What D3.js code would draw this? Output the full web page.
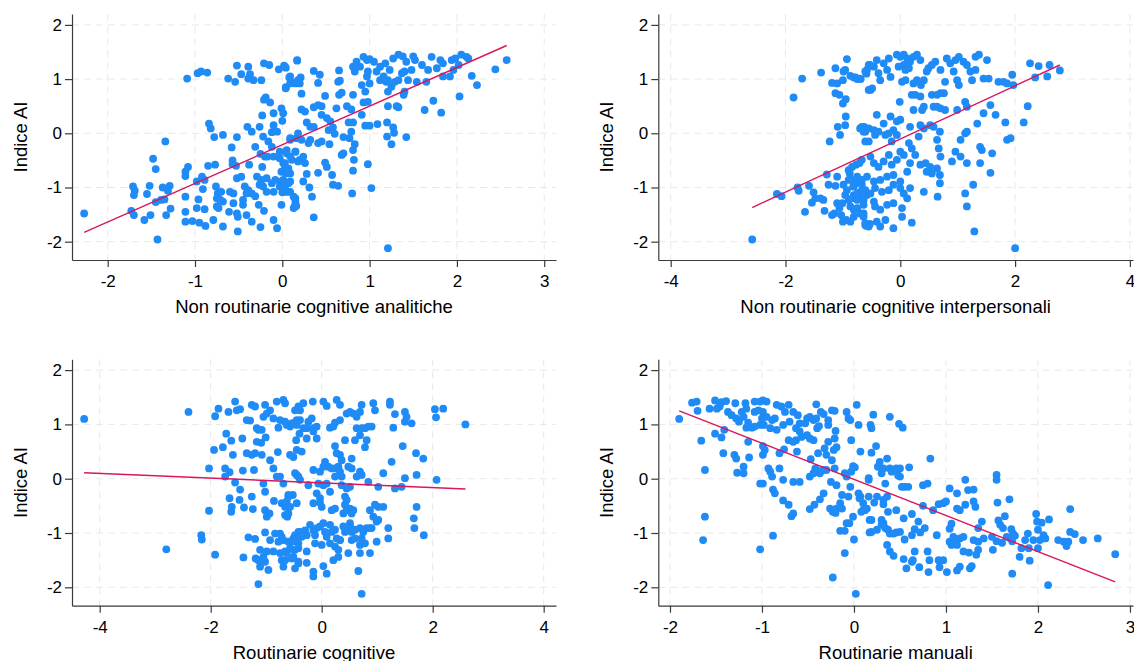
<!DOCTYPE html>
<html>
<head>
<meta charset="utf-8">
<script src="https://cdn.jsdelivr.net/npm/d3@7/dist/d3.min.js"></script>
<style>
  html, body { margin: 0; padding: 0; background: #fff; }
  svg { display: block; font-family: "Liberation Sans", Arial, Helvetica, sans-serif; }
</style>
</head>
<body>
<svg id="chart" width="1134" height="661"></svg>
<script>
// ---------------- DATA ----------------
const yTitle = "Indice AI";
const xTitles = [
  "Non routinarie cognitive analitiche",
  "Non routinarie cognitive interpersonali",
  "Routinarie cognitive",
  "Routinarie manuali"
];
const yTicks = [-2, -1, 0, 1, 2];
const xTicksAnalitiche = [-2, -1, 0, 1, 2, 3];
const xTicksInterpersonali = [-4, -2, 0, 2, 4];
const xTicksCognitive = [-4, -2, 0, 2, 4];
const xTicksManuali = [-2, -1, 0, 1, 2, 3];

// fitted line end points [x, y]
const fitAnalitiche = [[-2.27, -1.83], [2.57, 1.62]];
const fitInterpersonali = [[-2.58, -1.37], [2.78, 1.26]];
const fitCognitive = [[-4.28, 0.11], [2.59, -0.19]];
const fitManuali = [[-1.90, 1.25], [2.84, -1.90]];

const pointsAnalitiche = [
[-2.27,-1.48],
[-1.09,1.01],[-0.97,1.11],[-0.93,1.14],[-0.86,1.12],[-0.62,1.01],[-0.54,0.95],[-0.52,1.25],[-0.47,1.09],[-0.39,1.23],[-0.39,1.01],[-0.33,0.98],[-0.24,0.98],[-0.37,1.09],[-0.21,1.29],[-0.15,1.26],[-0.04,1.18],[0.02,1.25],[0.04,1.21],[0.17,1.34],[0.08,1.03],[0.13,0.93],[0.04,0.85],[0.09,0.92],[0.18,0.98],
[-0.19,0.66],[-0.21,0.62],[-0.14,0.57],[-0.01,0.46],[0.01,0.37],[-0.10,0.37],[-0.23,0.33],[0.00,0.23],[-0.84,0.18],[-0.82,0.09],[-0.40,0.12],[-0.35,0.03],[-0.26,0.12],[-0.10,0.15],[-0.12,0.02],[-0.06,0.03],[-0.78,-0.07],[-0.68,-0.03],[-0.52,-0.07],[-0.22,-0.06],[-0.16,-0.15],[0.09,-0.09],[0.16,-0.09],[-1.34,-0.15],[-0.31,-0.25],[-0.58,-0.26],[-0.25,-0.38],[-0.12,-0.25],[-0.03,-0.34],[0.05,-0.37],[0.15,-0.34],
[-1.48,-0.47],[-1.45,-0.66],[-1.08,-0.62],[-1.11,-0.71],[-1.11,-0.79],[-0.85,-0.60],[-0.77,-0.58],[-0.57,-0.50],[-0.57,-0.57],[-0.53,-0.60],[-0.38,-0.58],[-0.20,-0.43],[-0.17,-0.43],[-0.23,-0.62],[-0.10,-0.43],[-0.03,-0.46],[0.01,-0.55],[0.03,-0.65],[0.06,-0.68],[0.11,-0.49],[0.18,-0.52],[-0.01,-0.71],[0.09,-0.74],
[-1.71,-0.98],[-1.69,-1.06],[-1.70,-1.14],[-1.55,-1.12],[-1.52,-0.97],[-1.37,-1.00],[-1.29,-0.97],[-1.31,-1.06],[-1.73,-1.43],[-1.70,-1.51],[-1.58,-1.60],[-1.51,-1.51],[-1.45,-1.27],[-1.39,-1.23],[-1.35,-1.22],[-1.33,-1.51],[-1.28,-1.39],[-1.43,-1.96],[-1.11,-1.17],[-1.11,-1.45],[-1.11,-1.63],[-1.03,-1.62],[-0.95,-1.65],[-0.88,-1.71],[-0.98,-0.89],[-0.92,-0.80],[-0.89,-0.86],[-0.96,-1.22],[-0.91,-1.03],[-0.89,-1.40],[-0.98,-1.38],[-0.79,-1.60],[-0.76,-0.98],[-0.74,-1.11],[-0.70,-1.08],[-0.75,-1.20],[-0.71,-1.23],[-0.75,-1.35],[-0.68,-1.26],[-0.73,-1.38],[-0.68,-1.72],[-0.60,-1.08],[-0.56,-1.11],[-0.56,-1.29],[-0.61,-1.45],[-0.52,-1.48],[-0.51,-1.54],[-0.51,-1.81],[-0.52,-0.83],[-0.47,-0.80],[-0.45,-1.23],[-0.45,-1.32],[-0.41,-1.51],[-0.43,-0.98],[-0.39,-1.05],[-0.35,-1.11],[-0.41,-1.11],[-0.35,-1.63],[-0.31,-1.16],[-0.27,-1.32],[-0.25,-1.73],[-0.29,-0.80],[-0.24,-0.86],[-0.18,-0.83],[-0.26,-0.95],[-0.22,-0.98],[-0.21,-1.43],[-0.18,-1.08],[-0.12,-0.92],[-0.08,-0.86],[-0.10,-1.08],[-0.10,-1.60],[-0.06,-1.75],[-0.01,-0.89],[0.03,-0.98],[-0.03,-0.98],[0.00,-1.09],[0.06,-1.08],[-0.01,-1.32],[0.13,-1.17],[0.15,-1.26],[0.14,-1.35],[0.09,-0.89],
[0.03,1.23],[0.17,1.35],[0.04,0.83],[0.09,1.05],[0.15,0.92],[0.21,1.03],[0.20,0.92],[0.22,0.73],[0.36,1.15],[0.43,1.08],[0.41,0.93],[0.22,0.44],[0.26,0.40],[0.36,0.48],[0.41,0.52],[0.45,0.50],[0.49,0.69],[0.28,0.20],[0.32,0.12],[0.36,0.12],[0.45,0.34],[0.51,0.28],[0.55,0.22],[0.53,0.06],[0.60,-0.01],[0.58,0.11],[0.64,0.95],[0.66,0.97],[0.68,0.75],[0.65,0.71],[0.65,1.16],[0.62,0.46],[0.74,0.50],[0.79,0.44],[0.76,0.20],[0.81,0.20],[0.79,0.03],[0.77,-0.09],[0.70,-0.07],[0.81,0.71],[0.09,-0.12],[0.18,0.00],[0.22,-0.12],[0.32,-0.12],[0.30,-0.18],[0.41,-0.18],[0.45,-0.15],[0.54,-0.20],[0.05,-0.31],[0.09,-0.43],[0.15,-0.34],[0.20,-0.49],[0.26,-0.55],[0.24,-0.43],[0.03,-0.55],[0.07,-0.65],[0.04,-0.74],[0.01,-0.86],[0.07,-0.92],[0.03,-1.08],[0.09,-1.08],[0.15,-1.20],[0.13,-1.38],[0.16,-1.34],[0.24,-0.89],[0.31,-1.00],[0.34,-1.17],[0.36,-1.55],[0.28,-0.75],[0.41,-0.73],[0.49,-0.54],[0.51,-0.62],[0.57,-0.77],[0.58,-0.95],[0.64,-0.97],[0.68,-0.40],[0.70,-0.37],[0.81,-0.31],[0.82,-0.49],[0.81,-0.69],[0.80,-1.11],[0.83,-0.20],[0.98,-0.57],[1.02,-1.01],
[0.81,1.23],[0.85,1.32],[0.89,1.23],[0.93,1.41],[0.97,1.35],[1.00,1.37],[1.05,1.32],[0.83,1.14],[0.91,0.89],[0.97,1.05],[0.98,1.14],[0.95,0.77],[1.00,0.92],[0.93,0.57],[0.98,0.58],[0.91,0.34],[0.95,0.14],[1.00,0.14],[1.09,0.17],[1.20,0.20],[1.27,0.11],[1.28,0.01],[1.20,-0.06],[1.25,-0.20],[1.42,-0.07],[1.12,1.23],[1.18,1.29],[1.23,1.17],[1.27,1.38],[1.33,1.45],[1.38,1.42],[1.42,1.32],[1.50,1.42],[1.52,1.35],[1.60,1.26],[1.08,1.14],[1.12,0.98],[1.16,1.05],[1.19,0.95],[1.21,0.98],[1.29,0.95],[1.33,0.98],[1.37,1.11],[1.40,1.14],[1.44,0.98],[1.48,1.17],[1.54,0.95],[1.21,0.77],[1.25,0.86],[1.39,0.71],[1.40,0.77],[1.21,0.50],[1.31,0.50],[1.33,0.48],[1.65,0.95],[1.67,1.17],[1.71,1.41],[1.77,1.20],[1.81,1.35],[1.84,1.29],[1.84,1.05],[1.92,1.05],[1.94,1.35],[1.98,1.38],[2.05,1.45],[2.11,1.41],[2.13,1.38],[1.96,1.17],[2.02,1.26],[2.17,1.06],[2.23,0.89],[2.03,0.68],[1.63,0.43],[1.73,0.60],[1.82,0.38],[2.44,1.18],[2.57,1.35],[1.21,-2.12]
];

const pointsInterpersonali = [
[-2.58,-1.96],[-2.15,-1.12],[-2.07,-1.16],[-1.86,0.66],[-1.71,1.01],[-1.79,-1.00],[-1.77,-1.06],[-1.66,-1.45],[-1.59,-0.97],[-1.54,-1.28],[-1.51,-1.09],[-1.48,-1.20],[-1.39,-1.20],[-1.32,-1.43],[-1.34,-1.23],[-1.38,1.12],[-1.28,-0.76],[-1.25,-0.95],[-1.19,-1.51],[-1.15,-1.48],[-1.13,-0.97],[-1.10,-0.80],[-1.13,1.20],[-1.19,0.93],[-1.10,0.92],[-1.13,0.74],[-1.23,-0.15],[-1.09,0.12],[-1.05,-0.03],[-1.06,0.71],[-1.10,-1.29],[-1.01,-1.29],[-1.06,-1.38],[-1.03,-1.51],[-1.00,-1.63],[-0.94,-1.60],[-0.87,-1.63],[-0.99,1.14],[-0.96,1.17],[-0.93,1.37],[-0.87,1.06],[-0.81,1.03],[-0.75,1.00],[-0.69,1.00],[-1.00,0.55],[-0.95,0.63],[-1.00,0.98],[-0.95,0.31],[-0.96,0.15],[-0.99,-0.95],[-0.93,-1.05],[-0.84,-0.86],[-0.82,-0.98],[-0.78,-0.92],[-0.73,-0.89],[-0.67,-0.95],[-0.96,-1.14],[-0.90,-1.23],[-0.84,-1.20],[-0.81,-1.14],[-0.75,-1.11],[-0.70,-1.17],[-0.64,-1.23],[-0.90,-0.68],[-0.84,-0.62],[-0.77,-0.58],[-0.71,-0.55],[-0.67,-0.49],[-0.90,-0.86],[-0.88,-0.74],[-0.87,-1.35],[-0.81,-1.41],[-0.75,-1.38],[-0.70,-1.48],[-0.64,-1.54],[-0.61,-1.66],[-0.59,-1.71],[-0.53,-1.67],[-0.70,0.09],[-0.63,0.12],[-0.61,0.03],[-0.59,1.10],[-0.58,1.17],[-0.55,0.80],[-0.53,1.26],[-0.61,-0.15],[-0.55,-0.15],[-0.58,-1.14],
[-0.70,1.01],[-0.61,1.14],[-0.55,1.26],[-0.46,1.23],[-0.41,1.35],[-0.38,1.11],[-0.29,1.29],[-0.23,1.17],[-0.20,1.38],[-0.17,1.04],[-0.35,0.98],[-0.52,0.80],[-0.49,0.83],[-0.78,1.03],
[-0.06,1.45],[0.00,1.41],[0.06,1.45],[0.12,1.38],[0.17,1.32],[0.23,1.41],[0.29,1.45],[0.35,1.35],[-0.03,1.23],[0.06,1.26],[0.09,1.17],[0.15,1.20],[0.03,0.95],[0.09,0.98],[0.23,0.92],[0.29,0.98],[0.36,0.89],[0.41,0.98],[0.46,1.14],[0.49,1.20],[0.55,1.26],[0.61,1.32],[0.20,0.71],[0.26,0.71],[0.35,0.68],[0.55,0.71],[0.64,0.71],[0.70,0.74],[0.76,0.74],[0.70,1.17],[0.78,0.95],[0.81,1.38],[0.87,1.29],[0.93,1.14],[0.96,1.35],[1.02,1.41],[0.99,0.98],[1.02,0.89],[1.10,1.32],[1.16,1.26],[1.22,1.14],[1.25,0.98],[1.31,1.41],[1.37,1.45],[1.31,1.17],[1.45,1.01],[1.51,1.35],[1.54,1.01],[1.71,0.95],[1.80,0.95],[1.86,0.92],[1.95,1.08],[1.97,0.89],[2.26,1.29],[2.41,1.24],[2.60,1.26],[2.78,1.16],[2.56,1.05],[2.35,1.03],
[-0.01,0.58],[0.23,0.43],[0.38,0.43],[0.41,0.49],[0.58,0.49],[0.64,0.49],[0.70,0.46],[0.78,0.43],[-0.41,0.34],[-0.29,0.18],[-0.17,0.31],[-0.06,0.22],[0.00,0.25],[-0.67,0.12],[-0.64,0.03],[-0.55,0.09],[-0.46,0.06],[-0.44,-0.03],[-0.38,0.03],[-0.26,-0.03],[-0.20,0.00],[0.17,0.12],[0.35,0.15],[0.41,0.09],[0.52,0.15],[0.58,0.12],[0.69,0.03],[-0.12,0.06],[-0.06,-0.03],[-0.15,-0.15],[0.00,-0.34],[0.15,-0.18],[0.20,-0.28],[0.32,-0.06],[0.99,0.43],[1.13,0.58],[1.16,0.49],[1.34,0.18],[1.45,0.37],[1.57,0.52],[1.66,0.34],[1.83,0.20],[2.15,0.20],[2.22,0.50],[1.05,-0.12],[1.13,0.00],[1.16,0.03],[1.86,-0.12],[1.92,-0.09],[0.64,-0.12],[0.67,-0.28],[0.70,-0.43],[0.96,-0.34],[1.05,-0.43],[1.16,-0.55],[0.90,-0.52],[1.39,-0.25],[1.42,-0.31],[1.39,-0.55],[1.60,-0.37],[1.57,-0.73],
[-0.52,-0.43],[-0.46,-0.55],[-0.38,-0.62],[-0.29,-0.52],[-0.20,-0.40],[-0.15,-0.58],[-0.06,-0.49],[0.06,-0.40],[0.17,-0.55],[0.26,-0.40],[0.35,-0.58],[0.44,-0.55],[0.52,-0.62],[0.64,-0.65],[0.12,-0.71],[0.46,-0.71],[0.55,-0.74],[0.69,-0.77],[0.69,-0.92],[-0.75,-0.80],[-0.67,-0.86],[-0.58,-0.80],[-0.46,-0.89],[-0.35,-0.86],[-0.23,-0.80],[-0.12,-0.77],[0.00,-0.89],
[-0.81,-0.98],[-0.70,-1.08],[-0.61,-1.05],[-0.52,-1.11],[-0.44,-1.01],[-0.32,-1.08],[-0.20,-1.05],[-0.12,-0.95],[0.00,-1.01],[0.06,-1.11],[0.17,-1.01],[0.41,-1.08],[0.65,-1.17],[1.13,-1.11],[1.27,-0.95],[1.16,-1.35],[1.29,-1.81],[-0.75,-1.23],[-0.64,-1.32],[-0.46,-1.26],[-0.44,-1.35],[-0.35,-1.41],[-0.23,-1.32],[-0.12,-1.29],[0.03,-1.38],[0.12,-1.20],[-0.81,-1.54],[-0.64,-1.48],[-0.61,-1.69],[-0.55,-1.72],[-0.41,-1.63],[-0.35,-1.72],[-0.26,-1.60],[-0.12,-1.75],[0.03,-1.54],[0.20,-1.65],[2.00,-2.12]
];

const pointsCognitive = [
[-4.28,1.10],[-2.40,1.23],[-2.80,-1.30],[-2.17,-1.04],[-2.16,-1.12],[-2.03,0.19],[-2.03,-0.59],[-1.92,-1.40],[-1.94,0.53],[-1.78,0.58],[-1.92,1.15],[-1.86,1.29],[-1.72,0.83],[-1.63,0.70],[-1.60,0.44],[-1.74,0.19],[-1.66,0.12],[-1.74,0.04],[-1.56,-0.07],[-1.68,1.23],[-1.56,1.42],[-1.53,1.26],[-1.47,1.28],[-1.66,-0.36],[-1.62,-0.52],[-1.63,-0.61],[-1.47,-0.20],[-1.48,-0.39],[-1.40,-0.53],[-1.43,0.74],[-1.35,0.47],[-1.42,0.15],[-1.32,-1.08],[-1.41,-1.45],[-1.35,1.08],[-1.29,1.07],[-1.26,1.36],[-1.20,1.33],[-1.17,0.93],[-1.14,0.90],[-1.08,0.90],[-1.05,1.14],[-1.02,1.36],[-0.99,1.20],[-1.20,0.47],[-1.08,0.44],[-1.26,0.44],[-1.22,0.16],[-1.26,-0.33],[-1.24,-0.56],[-1.17,0.68],[-1.09,0.66],[-1.01,0.76],[-1.05,-0.09],[-1.02,-0.24],[-1.20,-1.11],[-1.19,-1.47],[-1.14,-1.50],[-1.11,-1.31],[-1.05,-1.44],[-1.02,-1.53],[-0.96,-1.68],[-1.11,-1.62],[-1.14,-1.94],[-1.02,-0.58],[-0.99,-0.70],[-0.94,-0.64],[-1.02,-0.99],[-0.99,-1.34],[-0.87,-1.34],[-0.93,-1.13],[-0.84,-1.01],[-0.78,-1.16],[-0.72,-1.07],[-0.93,1.26],[-0.87,1.11],[-0.81,1.42],[-0.75,1.08],[-0.69,1.45],[-0.66,1.39],[-0.78,0.94],[-0.63,0.99],[-0.93,0.34],[-0.87,0.19],[-0.79,0.49],[-0.86,-0.41],[-0.81,0.04],[-0.75,0.04],[-0.69,-0.09],[-0.72,-0.45],[-0.66,-0.52],[-0.60,-0.33],[-0.66,-0.67],[-0.62,-0.70],[-0.75,-1.37],[-0.66,-1.50],[-0.69,-1.62],[-0.63,-1.37],[-0.57,-1.28],[-0.51,-1.44],[-0.48,-1.31],[-0.54,-1.16],[-0.57,0.96],[-0.52,1.02],[-0.48,1.26],[-0.45,1.08],[-0.46,0.71],[-0.40,0.83],[-0.57,0.44],[-0.51,0.40],[-0.45,0.53],[-0.48,0.10],[-0.42,0.04],[-0.52,-0.30],[-0.45,-0.45],[-0.42,-0.98],[-0.45,-1.16],[-0.42,-1.19],[-0.42,-1.53],
[-0.66,1.05],[-0.54,1.02],[-0.45,0.99],[-0.39,1.08],[-0.33,0.93],[-0.27,0.93],[-0.39,1.26],[-0.33,1.39],[-0.42,1.33],[-0.24,1.05],[-0.18,1.11],[-0.15,0.93],[-0.09,0.96],[-0.16,1.42],[0.03,1.42],[0.09,1.34],[-0.15,0.87],[-0.09,0.74],[-0.27,0.74],[-0.36,0.50],
[0.15,0.94],[0.24,1.03],[0.21,0.96],[0.33,1.08],[0.45,1.20],[0.51,1.23],[0.57,1.20],[0.63,1.14],[0.69,1.23],[0.72,1.36],[0.27,1.45],[0.33,1.36],[0.63,0.93],[0.72,0.93],[0.78,0.93],[0.84,0.96],[0.90,0.96],[0.69,0.80],[0.60,0.71],[0.81,0.71],[0.93,1.39],[0.96,1.26],[1.23,1.42],[1.23,1.36],[1.32,1.19],[1.29,0.94],[1.50,1.23],[1.53,1.14],[1.50,1.05],[1.62,1.02],[2.04,1.28],[2.19,1.29],[2.06,1.13],[2.59,1.00],[0.42,0.71],[0.78,0.58],[0.24,0.60],[0.27,0.47],[0.33,0.44],[0.36,0.34],[0.54,0.37],[0.48,0.22],[0.54,0.19],[0.69,0.13],[0.72,0.07],[0.63,0.04],[-0.15,0.16],[-0.03,0.13],[0.03,0.22],[0.06,0.31],[0.12,0.22],[0.18,0.19],[0.24,0.19],[0.30,0.22],[0.33,0.13],[0.36,0.04],[0.24,0.04],[-0.45,0.07],[-0.39,-0.02],[-0.24,-0.12],[-0.06,-0.09],[0.03,-0.12],[0.09,-0.09],[0.36,-0.12],[0.45,-0.18],[0.51,-0.15],[0.84,-0.06],[1.02,-0.15],[1.11,0.10],[1.26,0.31],[1.32,-0.18],[1.44,-0.15],[1.50,0.01],[1.71,0.07],[1.70,0.47],[1.83,0.37],[2.07,-0.02],[1.46,0.60],[-0.60,-0.30],[-0.63,-0.42],[-0.57,-0.52],[-0.60,-0.64],[-0.09,-0.27],[-0.03,-0.36],[0.15,-0.24],[-0.15,-0.45],[-0.03,-0.44],[0.00,-0.52],[0.18,-0.58],[0.24,-0.55],[0.42,-0.33],[0.45,-0.39],[0.42,-0.48],[0.45,-0.58],[0.51,-0.55],[0.54,-0.64],[0.57,-0.58],[0.39,-0.64],[0.51,-0.82],[0.87,-0.58],[0.96,-0.48],[1.02,-0.52],[1.11,-0.52],[0.93,-0.70],[1.02,-0.76],[0.99,-0.79],[0.87,-0.91],[1.71,-0.52],[1.66,-0.73],[1.67,-0.91],[1.84,-1.04],[1.20,-0.91],[1.20,-1.10],[0.99,-1.16],
[-0.75,-1.01],[-0.69,-1.13],[-0.60,-1.16],[-0.51,-1.10],[-0.48,-1.04],[-0.39,-0.98],[-0.36,-1.07],[-0.30,-0.95],[-0.27,-1.04],[-0.21,-0.85],[-0.15,-0.95],[-0.12,-1.04],[-0.09,-0.91],[-0.03,-0.88],[0.03,-0.82],[0.06,-0.98],[0.09,-1.07],[0.15,-0.85],[0.18,-0.98],[0.24,-0.94],[0.27,-1.10],[0.33,-1.13],[0.39,-0.88],[0.42,-0.98],[0.51,-0.88],[0.54,-0.98],[0.60,-0.94],[0.69,-0.91],[0.75,-0.98],[0.81,-0.91],[0.90,-0.91],[-0.66,-1.34],[-0.51,-1.31],[-0.42,-1.28],[-0.27,-1.34],[-0.12,-1.19],[0.00,-1.22],[0.15,-1.19],[0.24,-1.25],[0.30,-1.31],[0.33,-1.13],[0.48,-1.37],[0.54,-1.13],[0.60,-1.10],[0.69,-1.22],[0.72,-1.10],[0.78,-1.19],[0.69,-1.37],[0.87,-1.37],[-0.72,-1.50],[-0.54,-1.47],[-0.48,-1.65],[-0.42,-1.56],[-0.27,-1.55],[-0.15,-1.71],[-0.15,-1.80],[0.03,-1.61],[0.09,-1.75],[0.21,-1.50],[0.30,-1.44],[0.66,-1.70],[0.72,-2.12]
];

const pointsManuali = [
[-1.90,1.10],[-1.76,1.40],[-1.71,1.42],[-1.70,1.25],[-1.66,0.70],[-1.64,-1.13],[-1.62,0.16],[-1.62,-0.70],[-1.57,1.29],[-1.51,1.44],[-1.49,1.29],[-1.44,1.41],[-1.39,1.43],[-1.46,1.33],[-1.51,0.83],[-1.44,0.76],[-1.41,0.90],[-1.42,0.47],[-1.37,1.23],[-1.33,1.17],[-1.29,1.39],[-1.28,1.11],[-1.25,1.05],[-1.22,1.23],[-1.20,1.14],[-1.30,0.44],[-1.28,0.37],[-1.20,0.22],[-1.20,0.10],[-1.27,0.11],[-1.18,1.39],[-1.17,1.29],[-1.15,1.03],[-1.17,0.94],[-1.11,0.94],[-1.08,0.96],[-1.02,0.99],[-1.15,0.68],[-1.14,0.39],[-1.08,1.42],[-1.02,1.42],[-0.99,1.44],[-0.95,1.42],[-1.04,1.26],[-0.99,1.23],[-1.08,1.23],[-1.00,1.11],[-0.95,1.14],[-0.89,1.08],[-0.86,1.11],[-0.98,0.99],[-0.91,0.93],[-0.84,0.90],[-0.99,0.60],[-0.97,0.53],[-0.99,0.44],[-0.93,0.19],[-0.91,0.13],[-0.89,0.04],[-1.02,-0.09],[-0.99,-0.09],[-0.88,-0.20],[-0.86,-0.27],[-1.02,-1.30],[-0.88,-1.05],[-0.81,0.19],[-0.84,1.36],[-0.79,1.33],[-0.75,1.23],[-0.71,1.36],[-0.66,1.23],[-0.61,1.17],[-0.59,1.02],[-0.77,0.99],[-0.70,1.05],[-0.81,0.47],[-0.76,0.54],[-0.71,0.71],[-0.66,0.68],[-0.62,0.50],[-0.63,0.71],[-0.77,-0.02],[-0.77,-0.40],[-0.71,-0.48],[-0.68,-0.69],[-0.66,-0.64],[-0.66,-0.06],[-0.59,-0.06],[-0.59,0.87],[-0.63,0.93],[-0.53,1.02],[-0.51,1.11],[-0.48,1.14],[-0.44,1.08],[-0.41,1.11],[-0.57,0.77],[-0.51,0.80],[-0.48,0.74],[-0.44,0.71],[-0.40,0.93],[-0.38,0.97],[-0.48,0.04],[-0.44,0.10],[-0.42,0.19],[-0.40,0.13],[-0.47,0.36],[-0.48,-0.56],[-0.43,-0.48],[-0.37,-0.38],[-0.33,-0.27],[-0.41,1.37],[-0.36,1.23],[-0.33,1.19],[-0.39,0.47],[-0.32,0.56],[-0.30,0.44],[-0.28,0.68],[-0.37,0.10],[-0.34,0.16],[-0.30,0.16],[-0.28,1.08],[-0.28,0.99],[-0.24,1.26],[-0.21,1.25],[-0.20,0.88],[-0.22,0.53],[-0.19,0.58],[-0.21,0.74],[-0.24,0.34],[-0.21,0.19],[-0.26,-0.55],[-0.23,-0.61],[-0.20,-0.63],[-0.19,-0.55],[-0.13,-0.55],[-0.25,-0.06],[-0.19,-0.12],[-0.15,-0.96],[-0.10,-0.96],[-0.08,-0.82],[-0.06,-0.33],[-0.04,-0.15],[-0.13,-0.30],[-0.15,-0.45],[-0.10,-1.37],[-0.23,-1.82],[-0.10,0.10],[-0.08,0.04],[-0.03,0.13],[-0.08,1.23],[-0.06,1.11],[-0.04,1.08],[-0.03,0.71],[-0.01,0.23],[0.01,0.21],[-0.05,-0.82],[-0.01,-0.70],[0.00,-1.12],[0.03,1.36],[0.05,0.99],[0.07,0.50],[0.05,-0.27],[0.07,-0.33],[0.10,-0.58],[0.14,-0.55],[0.16,-0.02],[0.17,-0.76],[0.17,-0.99],[0.02,-2.12],
[0.16,0.01],[0.18,0.99],[0.19,0.93],[0.21,1.18],[0.19,0.48],[0.24,0.60],[0.06,-0.36],[0.16,-0.33],[0.22,-0.44],[0.25,-0.33],[0.10,-0.45],[0.12,-0.58],[0.08,-0.61],[0.19,-0.76],[0.19,-0.98],[0.25,-0.94],[0.26,0.22],[0.28,0.31],[0.32,0.19],[0.30,0.10],[0.36,0.37],[0.34,-0.09],[0.36,-0.33],[0.32,-0.39],[0.32,-0.47],[0.39,1.14],[0.49,1.01],[0.53,0.94],[0.39,0.19],[0.41,0.13],[0.46,0.19],[0.48,0.06],[0.50,0.19],[0.50,0.04],[0.52,-0.15],[0.55,-0.15],[0.59,-0.15],[0.60,0.21],[0.83,0.37],[0.75,-0.12],[0.80,-0.09],[0.30,-0.76],[0.32,-0.82],[0.30,-0.85],[0.34,-0.91],[0.37,-0.94],[0.39,-1.01],[0.43,-1.01],[0.46,-0.99],[0.50,-0.98],[0.37,-0.61],[0.46,-0.58],[0.54,-0.73],[0.63,-0.65],[0.70,-0.79],[0.75,-0.50],[0.86,-0.58],[0.55,-1.12],[0.63,-1.04],[0.66,-0.93],[0.72,-0.99],[0.77,-0.91],[0.90,-1.04],[0.36,-1.22],[0.39,-1.34],[0.43,-1.42],[0.54,-1.48],[0.57,-1.65],[0.63,-1.53],[0.66,-1.34],[0.64,-1.50],[0.71,-1.63],[0.80,-1.34],[0.82,-1.50],[0.81,-1.72],[0.92,-1.50],[0.93,-1.63],[0.97,-1.50],[1.01,-1.72],[0.92,-0.47],[0.97,-0.45],[1.00,-0.42],[1.04,-0.18],[1.12,-0.27],[1.21,-0.02],[1.24,-0.21],[1.30,-0.20],[1.30,-0.42],[1.32,-0.52],[1.21,-0.48],[1.12,-0.55],[1.15,-0.58],[1.06,-0.83],[1.04,-0.92],[1.04,-1.16],[1.08,-1.07],[1.12,-1.13],[1.15,-1.10],[1.19,-1.07],[1.06,-1.22],[1.12,-1.22],[1.19,-1.34],[1.25,-1.36],[1.35,-1.31],[1.33,-1.40],[1.26,-1.65],[1.28,-1.61],[1.15,-1.62],[1.12,-1.69],[1.30,-1.13],[1.35,-1.16],[1.41,-1.10],[1.39,-0.79],[1.35,-0.91],[1.50,-1.07],[1.51,-1.31],[1.55,-1.15],[1.55,0.07],[1.55,-0.02],[1.56,-0.44],[1.57,-0.77],[1.59,-0.85],[1.61,-1.18],[1.62,-0.91],[1.64,-0.69],[1.69,-0.38],[1.66,-1.07],[1.70,-1.10],[1.71,-0.93],[1.73,-1.01],[1.72,-1.15],[1.75,-1.05],[1.72,-1.75],[1.80,-1.44],[1.82,-1.28],[1.86,-1.13],[1.89,-1.01],[1.91,-1.51],[1.90,-1.28],[1.95,-1.13],[1.98,-0.65],[1.99,-0.79],[2.00,-0.94],[2.04,-0.81],[2.02,-1.13],[2.06,-1.04],[2.08,-1.10],[2.12,-0.75],[2.11,-1.96],[2.00,-1.28],[2.22,-1.13],[2.28,-1.16],[2.31,-1.24],[2.33,-1.16],[2.35,-0.98],[2.35,-0.56],[2.40,-1.02],[2.49,-1.13],[2.65,-1.10],[2.84,-1.39]
];

// ---------------- LAYOUT ----------------
const panels = [
  { points: pointsAnalitiche, fit: fitAnalitiche, xTicks: xTicksAnalitiche, title: xTitles[0],
    left: 72, right: 556, top: 14, bottom: 260, xDom: [-2.409, 3.135], yDom: [-2.338, 2.201] },
  { points: pointsInterpersonali, fit: fitInterpersonali, xTicks: xTicksInterpersonali, title: xTitles[1],
    left: 658.3, right: 1133, top: 14, bottom: 260, xDom: [-4.216, 4.054], yDom: [-2.338, 2.201] },
  { points: pointsCognitive, fit: fitCognitive, xTicks: xTicksCognitive, title: xTitles[2],
    left: 72, right: 556, top: 359.3, bottom: 605.7, xDom: [-4.499, 4.222], yDom: [-2.339, 2.199] },
  { points: pointsManuali, fit: fitManuali, xTicks: xTicksManuali, title: xTitles[3],
    left: 658.3, right: 1133, top: 359.3, bottom: 605.7, xDom: [-2.127, 3.033], yDom: [-2.339, 2.199] }
];

const svg = d3.select("#chart");
const pointColor = "#1f8bf7";
const lineColor = "#d8175c";
const axisColor = "#3a3a3a";
const gridColor = "#e9e9e9";
const fmt = d => d3.format("d")(d).replace("\u2212", "-");

panels.forEach(p => {
  const x = d3.scaleLinear().domain(p.xDom).range([p.left, p.right]);
  const y = d3.scaleLinear().domain(p.yDom).range([p.bottom, p.top]);
  const g = svg.append("g");

  // grid
  g.append("g").selectAll("line").data(yTicks).join("line")
    .attr("x1", p.left).attr("x2", p.right)
    .attr("y1", d => y(d)).attr("y2", d => y(d))
    .attr("stroke", gridColor).attr("stroke-width", 1).attr("stroke-dasharray", "7,5");
  g.append("g").selectAll("line").data(p.xTicks).join("line")
    .attr("y1", p.top).attr("y2", p.bottom)
    .attr("x1", d => x(d)).attr("x2", d => x(d))
    .attr("stroke", gridColor).attr("stroke-width", 1).attr("stroke-dasharray", "7,5");

  // points
  g.append("g").selectAll("circle").data(p.points).join("circle")
    .attr("cx", d => x(d[0])).attr("cy", d => y(d[1])).attr("r", 3.9)
    .attr("fill", pointColor);

  // fit line
  g.append("path").datum(p.fit)
    .attr("d", d3.line().x(d => x(d[0])).y(d => y(d[1])))
    .attr("fill", "none").attr("stroke", lineColor).attr("stroke-width", 1.4);

  // axes
  const xAxis = d3.axisBottom(x).tickValues(p.xTicks).tickFormat(fmt)
    .tickSize(7).tickSizeOuter(0).tickPadding(8);
  const yAxis = d3.axisLeft(y).tickValues(yTicks).tickFormat(fmt)
    .tickSize(7).tickSizeOuter(0).tickPadding(3);
  const gx = g.append("g").attr("transform", `translate(0,${p.bottom})`).call(xAxis);
  const gy = g.append("g").attr("transform", `translate(${p.left},0)`).call(yAxis);
  [gx, gy].forEach(a => {
    a.select(".domain").attr("stroke", axisColor).attr("stroke-width", 1.2);
    a.selectAll(".tick line").attr("stroke", axisColor).attr("stroke-width", 1.2);
    a.selectAll(".tick text").attr("fill", "#000").style("font-size", "17px")
      .style("font-family", '"Liberation Sans", Arial, sans-serif');
  });

  // titles
  g.append("text")
    .attr("x", (p.left + p.right) / 2).attr("y", p.bottom + 53)
    .attr("text-anchor", "middle").style("font-size", "18.5px").attr("fill", "#000")
    .text(p.title);
  g.append("text")
    .attr("transform", `translate(${p.left - 45},${(p.top + p.bottom) / 2}) rotate(-90)`)
    .attr("text-anchor", "middle").style("font-size", "18.5px").attr("fill", "#000")
    .text(yTitle);
});
</script>
</body>
</html>
